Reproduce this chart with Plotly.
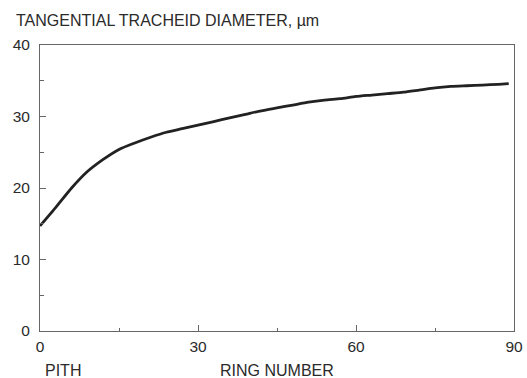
import plotly.graph_objects as go

# Ring number from pith and mean tangential tracheid diameter (µm)
ring_number = [0, 3, 6, 9, 12, 15, 18, 21, 24, 27, 30, 33, 36, 39, 42, 45,
               48, 51, 54, 57, 60, 63, 66, 69, 72, 75, 78, 81, 84, 87, 89]
tracheid_diameter = [14.7, 17.3, 20.0, 22.3, 24.0, 25.4, 26.3, 27.1, 27.8, 28.3,
                     28.8, 29.3, 29.8, 30.3, 30.8, 31.2, 31.6, 32.0, 32.3, 32.5,
                     32.8, 33.0, 33.2, 33.4, 33.7, 34.0, 34.2, 34.3, 34.4, 34.5, 34.6]

x_ticks = [0, 30, 60, 90]
y_ticks = [0, 10, 20, 30, 40]

FONT = "Liberation Sans, Arial, sans-serif"
TEXT = "#2a2a2a"
AXIS = "#666666"

fig = go.Figure()
fig.add_trace(go.Scatter(
    x=ring_number, y=tracheid_diameter, mode="lines",
    line=dict(color="#222222", width=2.8, shape="spline", smoothing=0.6),
    hoverinfo="skip", showlegend=False,
))

axis_common = dict(
    showgrid=False, zeroline=False, showline=True, mirror=True,
    linecolor=AXIS, linewidth=1, ticks="inside", tickcolor=AXIS,
    tickwidth=1, ticklen=6, automargin=False,
    tickfont=dict(family=FONT, size=15.5, color=TEXT),
)

fig.update_xaxes(
    range=[0, 90], tickvals=x_ticks, ticktext=[str(v) for v in x_ticks],
    minor=dict(ticks="inside", ticklen=3, dtick=15, tick0=0, tickcolor=AXIS),
    ticklabelstandoff=1, **axis_common,
)
fig.update_yaxes(
    range=[0, 40], tickvals=y_ticks, ticktext=[str(v) for v in y_ticks],
    minor=dict(ticks="inside", ticklen=4, dtick=5, tick0=0, tickcolor=AXIS),
    ticklabelstandoff=6, **axis_common,
)

fig.add_annotation(
    text="TANGENTIAL TRACHEID DIAMETER, µm", xref="paper", yref="paper",
    x=-0.055, y=1.084, xanchor="left", yanchor="middle", showarrow=False,
    font=dict(family=FONT, size=16, color=TEXT),
)
fig.add_annotation(
    text="PITH", xref="paper", yref="paper",
    x=0.006, y=-0.137, xanchor="left", yanchor="middle", showarrow=False,
    font=dict(family=FONT, size=16, color=TEXT),
)
fig.add_annotation(
    text="RING NUMBER", xref="paper", yref="paper",
    x=0.4995, y=-0.137, xanchor="center", yanchor="middle", showarrow=False,
    font=dict(family=FONT, size=16, color=TEXT),
)

fig.update_layout(
    width=527, height=378,
    margin=dict(l=40, r=13, t=45, b=47, autoexpand=False),
    paper_bgcolor="white", plot_bgcolor="white",
    font=dict(family=FONT, color=TEXT),
)

fig.write_html("out.html")
